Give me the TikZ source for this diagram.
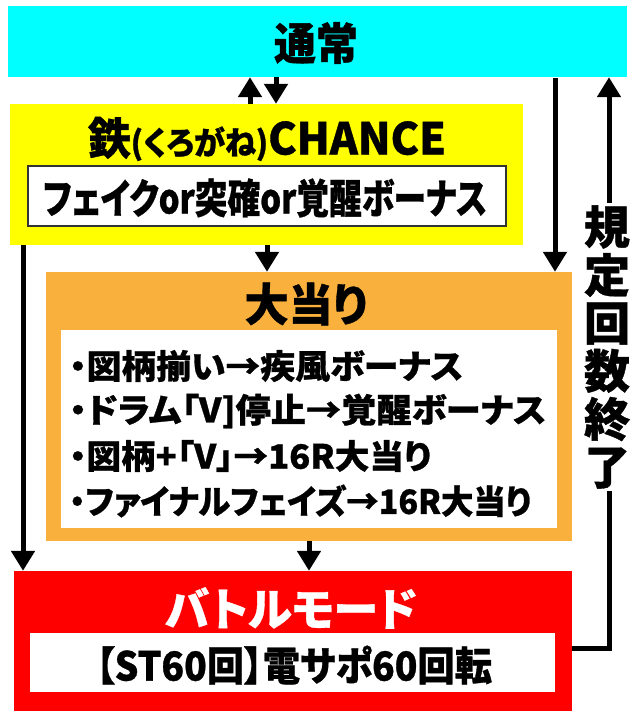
\documentclass[tikz,border=0pt]{standalone}
\usepackage{fontspec}
\usepackage{graphicx}
\usetikzlibrary{arrows.meta}
\setmainfont{Noto Sans CJK JP}[RawFeature=+palt, BoldFeatures={FakeBold=0.8}]
\definecolor{cy}{HTML}{00FFFF}
\definecolor{ye}{HTML}{FFFF00}
\definecolor{og}{HTML}{F9B03C}
\definecolor{rd}{HTML}{FF0000}
\newcommand{\fitw}[2]{\resizebox{#1pt}{\height}{#2}}
\tikzset{
  panel/.style={inner sep=0pt, draw=none},
  inbox/.style={inner sep=0pt, fill=white},
  ttl/.style={inner sep=0pt, font=\bfseries\fontsize{#1}{#1}\selectfont},
  lst/.style={inner sep=0pt, anchor=west, font=\bfseries\fontsize{33.5}{33.5}\selectfont},
  arr/.style={line width=5pt, -{Triangle[width=23pt,length=20pt]}},
}
\begin{document}
\begin{tikzpicture}[x=1pt,y=-1pt]
\fill[white] (0,0) rectangle (640,718);
\useasboundingbox (0,0) rectangle (640,718);
% panels
\node[panel, fill=cy, minimum width=619pt, minimum height=71pt] (cyan) at (317.5,41.5) {};
\node[ttl=44] (tcyan) at (316,43) {\fitw{84}{通常}};
\node[panel, fill=ye, minimum width=513pt, minimum height=141pt] (yel) at (266.5,174.5) {};
\node[ttl=44] (tyel) at (267,139) {\fitw{358}{鉄{\fontsize{32}{32}\selectfont (くろがね)}CHANCE}};
\node[inbox, draw=black!80, line width=1.2pt, minimum width=478pt, minimum height=60pt] (yin) at (267,196) {};
\node[ttl=41] (tyin) at (265,198) {\fitw{444}{フェイクor突確or覚醒ボーナス}};
\node[panel, fill=og, minimum width=526pt, minimum height=269pt] (org) at (309,406.5) {};
\node[ttl=45] (torg) at (306,304) {\fitw{123}{大当り}};
\node[inbox, minimum width=496pt, minimum height=198pt] (oin) at (309,429) {};
\node[lst] (l1) at (69,366) {\fitw{394}{・図柄揃い→疾風ボーナス}};
\node[lst] (l2) at (69,411) {\fitw{477}{・ドラム「V]停止→覚醒ボーナス}};
\node[lst] (l3) at (69,456) {\fitw{362}{・図柄+「V」→16R大当り}};
\node[lst] (l4) at (69,501) {\fitw{462}{・ファイナルフェイズ→16R大当り}};
\node[panel, fill=rd, minimum width=558pt, minimum height=140pt] (red) at (293,641) {};
\node[ttl=45, text=white] (tred) at (291,608) {\fitw{252}{バトルモード}};
\node[inbox, minimum width=525pt, minimum height=59pt] (rin) at (292.5,662.5) {};
\node[ttl=40] (trin) at (294,665) {\fitw{396}{【ST60回】電サポ60回転}};
% arrow positions
\coordinate (xa) at (250,0);
\coordinate (xb) at (276,0);
\coordinate (xc) at (555,0);
\coordinate (xd) at (609,0);
\coordinate (xe) at (23,0);
\coordinate (xf) at (267,0);
\coordinate (xg) at (309,0);
\coordinate (yr) at (0,648);
\draw[arr] (yel.north -| xa) -- (cyan.south -| xa);
\draw[arr] (cyan.south -| xb) -- (yel.north -| xb);
\draw[arr] ([yshift=-1pt]cyan.south -| xc) -- (org.north -| xc);
\draw[arr] (yel.south -| xe) -- (red.north -| xe);
\draw[arr] (yel.south -| xf) -- (org.north -| xf);
\draw[arr] (org.south -| xg) -- (red.north -| xg);
\draw[arr] (red.east |- yr) -| (cyan.south -| xd);
\node[fill=white, inner sep=2pt, align=center, font=\bfseries\fontsize{46}{48}\selectfont] (vt) at (607,347) {規\\定\\回\\数\\終\\了};
\end{tikzpicture}
\end{document}
